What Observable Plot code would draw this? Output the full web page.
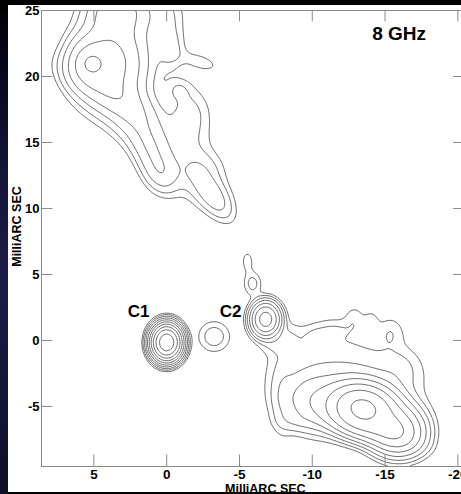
<!DOCTYPE html>
<html><head><meta charset="utf-8">
<script src="https://cdn.jsdelivr.net/npm/d3@7"></script>
<script src="https://cdn.jsdelivr.net/npm/@observablehq/plot@0.6"></script>
<style>
html,body{margin:0;padding:0;background:#000;overflow:hidden;width:461px;height:494px}
#strip{position:absolute;left:0;top:0;width:8px;height:494px;background:linear-gradient(to bottom,#000 0%,#06061a 12%,#151538 35%,#1c1c46 55%,#16163a 78%,#0e0e26 100%)}
#paper{position:absolute;left:8px;top:5px;width:453px;height:487px;background:#fff}
#chart{position:absolute;left:0;top:0}
#chart svg{max-width:none!important;background:transparent!important}
</style></head><body>
<div id="strip"></div><div id="paper"></div><div id="chart"></div>
<script>
// ---- labels / ticks
const freqLabel = "8 GHz";
const axisTitle = "MilliARC SEC";
const xTicks = [5, 0, -5, -10, -15, -20];
const yTicks = [25, 20, 15, 10, 5, 0, -5];
const xDomain = [8.6, -20.5];
const yDomain = [-9.55, 25];
// contour levels (multiples of the lowest contour)
const contourLevels = [1, 2, 4, 8, 16, 32, 64, 128, 256, 512];

// ---- brightness components: [x, y, peak, sigmaMajor, sigmaMinor, angleDeg]
const coreC1 = [0.0, -0.15, 900, 0.6, 0.46, 90];
const coreC2 = [-6.8, 1.6, 90, 0.65, 0.5, 90];
const minorKnots = [
  [-3.25, 0.3, 3, 0.7, 0.75, 0],
  [-5.9, 4.3, 2.6, 0.6, 0.4, 90],
  [-5.55, 6.0, 1.5, 0.6, 0.3, 90],
  [-7.4, -0.3, 1.4, 0.6, 0.5, 0]
];
const southLobe = [
  [-13.5, -5.1, 150, 1.25, 0.95, 15],
  [-15.8, -6.8, 60, 1.0, 0.95, 35],
  [-13.8, -6.6, 32, 1.6, 0.6, 20],
  [-12.3, -3.0, 4.3, 3.0, 2.2, 15],
  [-10.2, -4.6, 12, 1.3, 1.2, 20],
  [-7.9, -4.0, 1.6, 2.2, 0.5, 90],
  [-8.7, -6.1, 1.4, 0.8, 0.5, 0],
  [-12.9, 1.6, 1.3, 0.7, 0.45, 90],
  [-14.05, 1.4, 1.2, 0.6, 0.35, 90],
  [-15.4, 0.6, 1.5, 0.8, 0.6, 90],
  [-11.5, 0.8, 1.3, 0.8, 0.5, 0],
  [-10.2, 0.3, 1.3, 0.6, 0.5, 0],
  [-8.4, 0.2, 1.3, 0.7, 0.6, 90],
  [-16.0, -2.2, 1.5, 1.0, 0.9, 90]
];
const northLobe = [
  [5.15, 21.0, 10, 0.5, 0.5, 0],
  [5.4, 21.0, 16, 1.1, 0.85, 90],
  [3.8, 21.0, 20, 1.9, 1.4, 90],
  [3.4, 25.0, 12, 1.2, 1.2, 0],
  [4.0, 18.8, 6, 2.0, 0.8, 33]
];
const northJet = [
  [2.3, 17.0, 6, 1.6, 1.0, 60],
  [1.0, 14.3, 7, 1.6, 0.75, 70],
  [0.3, 12.6, 3.5, 0.9, 0.7, 70],
  [-3.2, 10.9, 5, 1.2, 0.55, 58],
  [-2.6, 11.6, 2.2, 1.5, 1.0, 50]
];
const eastRidge = [
  [0.2, 24.5, 2.6, 1.5, 0.9, 90],
  [-0.3, 22.0, 2.2, 1.0, 0.6, 90],
  [-0.8, 19.0, 1.7, 0.6, 0.6, 0],
  [-2.3, 21.1, 1.5, 1.0, 0.45, 20],
  [-1.6, 17.4, 2.0, 1.2, 0.9, 90],
  [-1.2, 15.0, 2.2, 1.6, 1.2, 90],
  [-2.3, 13.0, 2.2, 1.0, 0.9, 0]
];

const comps = [coreC1, coreC2, ...minorKnots, ...southLobe, ...northLobe, ...northJet, ...eastRidge].map(([x, y, a, sa, sb, ang]) => {
  const t = ang * Math.PI / 180;
  return {x, y, a, c: Math.cos(t), s: Math.sin(t), ia: 1 / (2 * sa * sa), ib: 1 / (2 * sb * sb)};
});
function flux(x, y) {
  let v = 0;
  for (const k of comps) {
    const dx = x - k.x, dy = y - k.y;
    const u = dx * k.c + dy * k.s, w = -dx * k.s + dy * k.c;
    const e = u * u * k.ia + w * w * k.ib;
    if (e < 25) v += k.a * Math.exp(-e);
  }
  return v;
}

const W = 475, H = 494, mL = 41, mR = 10.4, mT = 10, mB = 28;
const pw = W - mL - mR, ph = H - mT - mB;
const tick = 11.5;
const font = "'Liberation Sans', Arial, Helvetica, sans-serif";
const bold = {fontWeight: "bold", fill: "#000"};

const chart = Plot.plot({
  width: W, height: H,
  marginLeft: mL, marginRight: mR, marginTop: mT, marginBottom: mB,
  style: {fontFamily: font, background: "transparent", overflow: "visible"},
  x: {domain: xDomain},
  y: {domain: yDomain},
  marks: [
    Plot.contour({
      x1: xDomain[0], x2: xDomain[1], y1: yDomain[0], y2: yDomain[1],
      value: flux, thresholds: contourLevels,
      fill: "none", stroke: "#505050", strokeWidth: 0.85
    }),
    Plot.frame({stroke: "#8a8a8a", strokeWidth: 1}),
    Plot.tickY(yTicks.slice(1), {y: d => d, insetRight: pw - tick, stroke: "#8a8a8a"}),
    Plot.tickY(yTicks.slice(1), {y: d => d, insetLeft: pw - tick, stroke: "#8a8a8a"}),
    Plot.tickX(xTicks, {x: d => d, insetTop: ph - tick, stroke: "#8a8a8a"}),
    Plot.tickX(xTicks, {x: d => d, insetBottom: ph - tick, stroke: "#8a8a8a"}),
    Plot.axisY(yTicks, {anchor: "left", tickSize: 0, tickPadding: 2, fontSize: 13, ...bold, label: null, tickFormat: d => String(d)}),
    Plot.axisX(xTicks, {anchor: "bottom", tickSize: 0, tickPadding: 2.5, fontSize: 13.5, ...bold, label: null, tickFormat: d => String(d)}),
    Plot.text([axisTitle], {frameAnchor: "bottom", dx: 12, dy: 22, fontSize: 12.5, ...bold, lineAnchor: "middle"}),
    Plot.text([axisTitle], {frameAnchor: "left", rotate: -90, dx: -25, dy: -12, fontSize: 12.5, ...bold, lineAnchor: "middle", textAnchor: "middle"}),
    Plot.text([freqLabel], {frameAnchor: "top-right", dx: -66, dy: 23, fontSize: 19, ...bold, lineAnchor: "middle", textAnchor: "middle"}),
    Plot.text(["C1"], {x: coreC1[0], y: coreC1[1], dx: -28, dy: -31, fontSize: 17, ...bold}),
    Plot.text(["C2"], {x: coreC2[0], y: coreC2[1], dx: -35, dy: -8, fontSize: 17, ...bold})
  ]
});
document.getElementById("chart").appendChild(chart);
</script>
</body></html>
